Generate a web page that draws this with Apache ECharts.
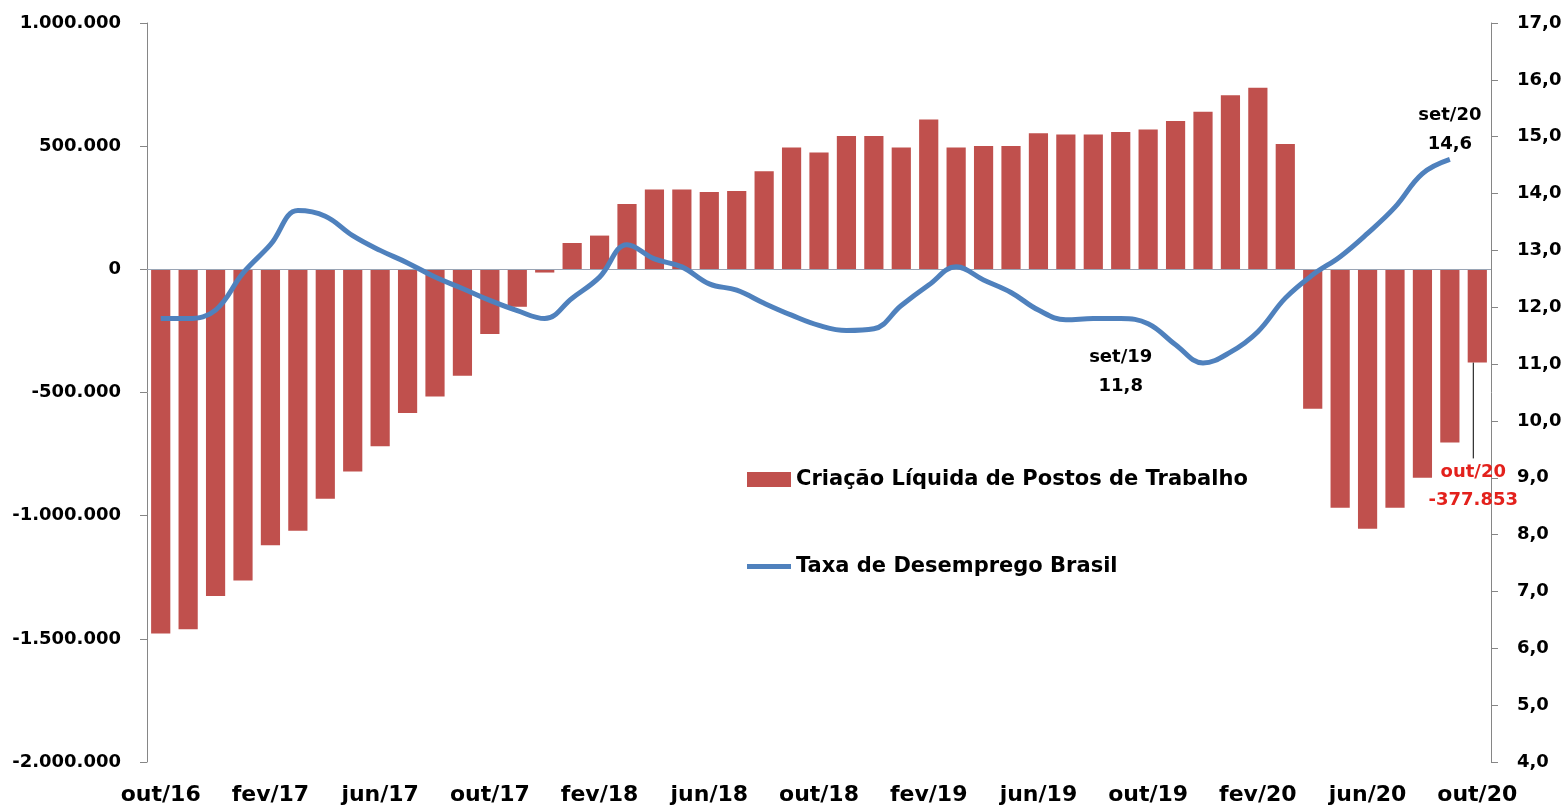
<!DOCTYPE html>
<html>
<head>
<meta charset="utf-8">
<script src="https://cdn.jsdelivr.net/npm/echarts@6/dist/echarts.min.js"></script>
<style>
  html, body { margin: 0; background: #fff; }
  #chart { width: 1566px; height: 809px; }
</style>
</head>
<body>
<div id="chart"></div>
<script>
// meses (out/16 a out/20)
const meses = [
  'out/16', 'nov/16', 'dez/16', 'jan/17', 'fev/17', 'mar/17', 'abr/17', 'mai/17', 'jun/17', 'jul/17',
  'ago/17', 'set/17', 'out/17', 'nov/17', 'dez/17', 'jan/18', 'fev/18', 'mar/18', 'abr/18', 'mai/18',
  'jun/18', 'jul/18', 'ago/18', 'set/18', 'out/18', 'nov/18', 'dez/18', 'jan/19', 'fev/19', 'mar/19',
  'abr/19', 'mai/19', 'jun/19', 'jul/19', 'ago/19', 'set/19', 'out/19', 'nov/19', 'dez/19', 'jan/20',
  'fev/20', 'mar/20', 'abr/20', 'mai/20', 'jun/20', 'jul/20', 'ago/20', 'set/20', 'out/20'
]

// criação líquida de postos de trabalho (acumulado 12 meses)
const criacaoLiquida = [
  -1478000, -1461000, -1326000, -1263000, -1120000, -1061000, -931000, -821000, -718000, -583000,
  -516000, -432000, -263000, -152000, -13000, 107000, 137000, 265000, 324000, 324000,
  314000, 318000, 398000, 495000, 474000, 541000, 541000, 495000, 608000, 495000,
  501000, 501000, 552000, 547000, 547000, 558000, 568000, 602000, 640000, 707000,
  737000, 509000, -566000, -968000, -1053000, -968000, -846000, -703000, -377853
]

// taxa de desemprego (%), sem dado para out/20
const taxaDesemprego = [
  11.8, 11.8, 11.95, 12.6, 13.1, 13.7, 13.6, 13.26, 13.0, 12.78,
  12.53, 12.33, 12.12, 11.94, 11.8, 12.16, 12.53, 13.1, 12.85, 12.71,
  12.41, 12.3, 12.07, 11.86, 11.68, 11.59, 11.62, 12.03, 12.39, 12.71,
  12.48, 12.26, 11.95, 11.78, 11.8, 11.8, 11.71, 11.34, 11.02, 11.21,
  11.57, 12.16, 12.57, 12.89, 13.3, 13.76, 14.35, 14.6, null
]

const destaquesTaxa = [35, 47]   // set/19 e set/20
const destaqueVagas = 48         // out/20

const fonte = 'DejaVu Sans'
const fmtMilhar = v => (v < 0 ? '-' : '') + String(Math.abs(v)).replace(/\B(?=(\d{3})+(?!\d))/g, '.')
const fmtDecimal = v => v.toFixed(1).replace('.', ',')

const chart = echarts.init(document.getElementById('chart'))

const barData = criacaoLiquida.map((v, i) => {
  if (i !== destaqueVagas) return v
  return {
    value: v,
    label: {
      show: true,
      position: 'bottom',
      distance: 4,
      formatter: meses[i] + '\n' + fmtMilhar(v),
      color: '#e3211c',
      fontFamily: fonte,
      fontWeight: 'bold',
      fontSize: 18,
      lineHeight: 28
    },
    labelLine: { show: true, lineStyle: { color: '#000', width: 1 } }
  }
})

const lineData = taxaDesemprego.map((v, i) => {
  if (!destaquesTaxa.includes(i)) return v
  return {
    value: v,
    label: {
      show: true,
      position: i === 35 ? 'bottom' : 'top',
      distance: i === 35 ? 24 : 1,
      formatter: meses[i] + '\n' + fmtDecimal(v),
      color: '#000',
      fontFamily: fonte,
      fontWeight: 'bold',
      fontSize: 18,
      lineHeight: 29
    }
  }
})

chart.setOption({
  animation: false,
  backgroundColor: '#fff',
  grid: { left: 147, right: 75, top: 23, bottom: 47 },
  legend: {
    orient: 'vertical',
    left: 742,
    top: 464,
    itemGap: 66,
    itemWidth: 44,
    itemHeight: 15,
    textStyle: { fontFamily: fonte, fontWeight: 'bold', fontSize: 21, color: '#000' },
    data: [
      { name: 'Criação Líquida de Postos de Trabalho', icon: 'rect' },
      { name: 'Taxa de Desemprego Brasil', icon: 'path://M0,0 L44,0 L44,5 L0,5 Z' }
    ]
  },
  xAxis: {
    type: 'category',
    data: meses,
    axisLine: { show: false },
    axisTick: { show: false },
    axisLabel: {
      interval: 3,
      margin: 22,
      fontFamily: fonte,
      fontWeight: 'bold',
      fontSize: 22,
      color: '#000'
    }
  },
  yAxis: [
    {
      type: 'value',
      min: -2000000,
      max: 1000000,
      interval: 500000,
      splitLine: { show: false },
      axisLine: { show: true, lineStyle: { color: '#868686' } },
      axisTick: { show: true, length: 7, lineStyle: { color: '#868686' } },
      axisLabel: {
        margin: 26,
        formatter: fmtMilhar,
        fontFamily: fonte,
        fontWeight: 'bold',
        fontSize: 18,
        color: '#000'
      }
    },
    {
      type: 'value',
      min: 4,
      max: 17,
      interval: 1,
      position: 'right',
      splitLine: { show: false },
      axisLine: { show: true, lineStyle: { color: '#868686' } },
      axisTick: { show: true, length: 7, lineStyle: { color: '#868686' } },
      axisLabel: {
        margin: 26,
        formatter: fmtDecimal,
        fontFamily: fonte,
        fontWeight: 'bold',
        fontSize: 18,
        color: '#000'
      }
    }
  ],
  series: [
    {
      name: 'Criação Líquida de Postos de Trabalho',
      type: 'bar',
      data: barData,
      barCategoryGap: '30%',
      itemStyle: { color: '#c0504d' },
      labelLayout: { dx: -4, dy: 92 },
      markLine: {
        silent: true,
        symbol: 'none',
        label: { show: false },
        lineStyle: { color: '#9aa5b5', width: 1, type: 'solid' },
        data: [{ yAxis: 0 }]
      }
    },
    {
      name: 'Taxa de Desemprego Brasil',
      type: 'line',
      yAxisIndex: 1,
      data: lineData,
      smooth: 0.4,
      symbol: 'circle',
      symbolSize: 0,
      showSymbol: true,
      z: 5,
      lineStyle: { color: '#4f81bd', width: 5 },
      itemStyle: { color: '#4f81bd' }
    }
  ]
})
</script>
</body>
</html>
